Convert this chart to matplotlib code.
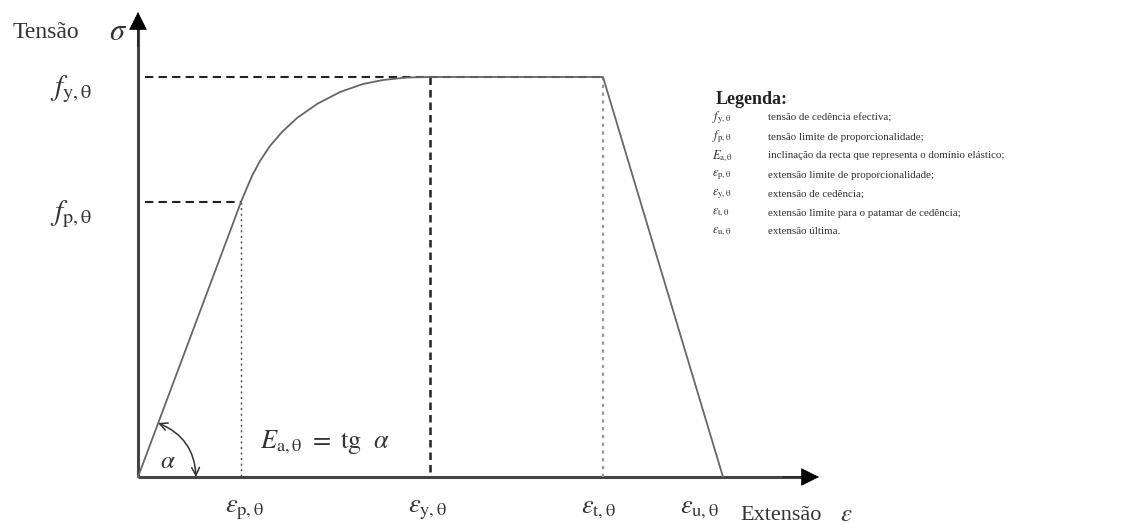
import matplotlib
matplotlib.use("Agg")
import matplotlib.pyplot as plt

plt.rcParams['font.family'] = ['Liberation Serif', 'DejaVu Serif']
plt.rcParams['mathtext.fontset'] = 'stix'

# pontos característicos (unidades arbitrárias do diagrama)
eps_p, eps_y, eps_t, eps_u = 1.03, 2.92, 4.65, 5.85
f_p, f_y = 2.75, 4.00

# troço elíptico entre (eps_p, f_p) e (eps_y, f_y)
curve_eps = [1.03, 1.08, 1.14, 1.22, 1.32, 1.44, 1.59, 1.79, 2.02, 2.25, 2.45, 2.69, 2.92]
curve_sig = [2.75, 2.87, 3.01, 3.16, 3.31, 3.45, 3.59, 3.73, 3.85, 3.93, 3.97, 3.995, 4.00]

tick_eps_labels = [r'$\varepsilon_{\mathrm{p,\theta}}$', r'$\varepsilon_{\mathrm{y,\theta}}$',
                   r'$\varepsilon_{\mathrm{t,\theta}}$', r'$\varepsilon_{\mathrm{u,\theta}}$']
tick_sig = [f_y, f_p]
tick_sig_labels = [r'$f_{\mathrm{y,\theta}}$', r'$f_{\mathrm{p,\theta}}$']

legend_symbols = [r'$f_{\mathrm{y,\theta}}$', r'$f_{\mathrm{p,\theta}}$', r'$E_{\mathrm{a,\theta}}$',
                  r'$\varepsilon_{\mathrm{p,\theta}}$', r'$\varepsilon_{\mathrm{y,\theta}}$',
                  r'$\varepsilon_{\mathrm{t,\theta}}$', r'$\varepsilon_{\mathrm{u,\theta}}$']
legend_texts = ['tensão de cedência efectiva;',
                'tensão limite de proporcionalidade;',
                'inclinação da recta que representa o domínio elástico;',
                'extensão limite de proporcionalidade;',
                'extensão de cedência;',
                'extensão limite para o patamar de cedência;',
                'extensão última.']

fig = plt.figure(figsize=(11.35, 5.24), dpi=100)
ax = fig.add_axes([0, 0, 1, 1])
ax.set_xlim(-1.38, 9.97)
ax.set_ylim(-0.47, 4.77)
ax.axis('off')

# eixos com setas
ax.plot([0, 0], [0, 4.5], color='#444444', lw=2.2, solid_capstyle='butt')
ax.plot([0, 6.65], [0, 0], color='#444444', lw=2.2, solid_capstyle='butt')
ax.annotate('', xy=(0, 4.65), xytext=(0, 4.3),
            arrowprops=dict(arrowstyle='-|>', mutation_scale=30, lw=0.5, color='black',
                            shrinkA=0, shrinkB=0))
ax.annotate('', xy=(6.81, 0), xytext=(6.45, 0),
            arrowprops=dict(arrowstyle='-|>', mutation_scale=30, lw=0.5, color='black',
                            shrinkA=0, shrinkB=0))

# linhas de chamada
ax.plot([0.07, eps_t], [f_y, f_y], ls=(0, (4, 2.5)), color='#222222', lw=1.5)
ax.plot([0.07, eps_p], [f_p, f_p], ls=(0, (4, 2.5)), color='#222222', lw=1.5)
ax.plot([eps_y, eps_y], [f_y, 0], ls=(0, (3, 2)), color='#222222', lw=1.8)
ax.plot([eps_p, eps_p], [f_p, 0], ls=(0, (1.5, 2.5)), color='#444444', lw=1.0)
ax.plot([eps_t, eps_t], [f_y, 0], ls=(0, (1.5, 2)), color='#999999', lw=1.6)

# curva tensão-extensão
xs = [0] + curve_eps + [eps_t, eps_u]
ys = [0] + curve_sig + [f_y, 0]
ax.plot(xs, ys, color='#666666', lw=1.3, solid_joinstyle='round')

# ângulo alfa
ax.annotate('', xy=(0.58, 0.0), xytext=(0.20, 0.54),
            arrowprops=dict(arrowstyle='<->', mutation_scale=14, lw=1.1, color='#333333',
                            connectionstyle='arc3,rad=-0.32', shrinkA=0, shrinkB=0))
ax.text(0.30, 0.15, r'$\alpha$', fontsize=18, ha='center', va='center', color='#333333')
ax.text(1.22, 0.35, r'$E_{\mathrm{a,\theta}}\ =\ \mathrm{tg}\ \ \alpha$', fontsize=19,
        ha='left', va='center', color='#333333')

# rótulos dos eixos
ax.text(-1.25, 4.45, 'Tensão', fontsize=17, ha='left', va='center', color='#333333')
ax.text(-0.20, 4.45, r'$\sigma$', fontsize=22, ha='center', va='center', color='#333333')
ax.text(6.02, -0.38, 'Extensão', fontsize=16, ha='left', va='center', color='#333333')
ax.text(7.08, -0.38, r'$\varepsilon$', fontsize=18, ha='center', va='center', color='#333333')

for v, lab in zip(tick_sig, tick_sig_labels):
    ax.text(-0.88, v - 0.12, lab, fontsize=21, ha='left', va='center', color='#333333')
for x, lab in zip([1.06, 2.89, 4.60, 5.61], tick_eps_labels):
    ax.text(x, -0.33, lab, fontsize=19, ha='center', va='center', color='#333333')

# legenda
ax.text(5.78, 3.77, 'Legenda:', fontsize=13, fontweight='bold', ha='left', va='center',
        color='#222222')
for i, (sym, txt) in enumerate(zip(legend_symbols, legend_texts)):
    y = 3.59 - i * 0.19
    ax.text(5.74, y, sym, fontsize=9, ha='left', va='center', color='#333333')
    ax.text(6.30, y, txt, fontsize=7.9, ha='left', va='center', color='#333333')

fig.savefig("out.png", dpi=100, facecolor='white')
